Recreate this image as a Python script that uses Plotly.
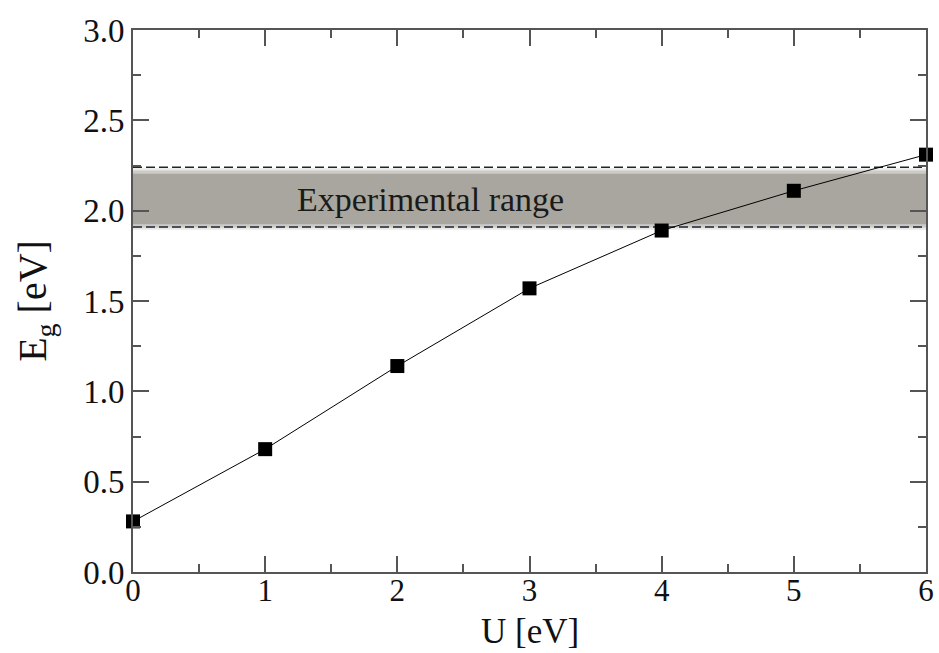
import plotly.graph_objects as go

U = [0, 1, 2, 3, 4, 5, 6]
Eg = [0.28, 0.68, 1.14, 1.57, 1.89, 2.11, 2.31]
exp_low = 1.91
exp_high = 2.24
band_low = 1.915
band_high = 2.215
x_range = [0, 6]
y_range = [0, 3]
x_ticks = [0, 1, 2, 3, 4, 5, 6]
y_ticks = [0.0, 0.5, 1.0, 1.5, 2.0, 2.5, 3.0]

FONT = "Liberation Serif, Times New Roman, serif"
AX = "#555555"
TXT = "#111111"

fig = go.Figure()

# soft-edged gray band
fig.add_shape(type="rect", xref="x", yref="y", x0=0, x1=6, y0=band_low - 0.02, y1=band_high + 0.02,
              fillcolor="rgba(168,166,158,0.25)", line_width=0, layer="below")
fig.add_shape(type="rect", xref="x", yref="y", x0=0, x1=6, y0=band_low - 0.008, y1=band_high + 0.008,
              fillcolor="rgba(168,166,158,0.45)", line_width=0, layer="below")
fig.add_shape(type="rect", xref="x", yref="y", x0=0, x1=6, y0=band_low + 0.01, y1=band_high - 0.01,
              fillcolor="#a8a69e", line_width=0, layer="below")

for yv in (exp_low, exp_high):
    fig.add_trace(go.Scatter(x=[x_range[0], x_range[1]], y=[yv, yv], mode="lines",
                             line=dict(color="#222233", width=1.5, dash="9px,4px"),
                             hoverinfo="skip", showlegend=False))

fig.add_trace(go.Scatter(x=U, y=Eg, mode="lines+markers",
                         line=dict(color="black", width=1),
                         marker=dict(symbol="square", size=14, color="black"),
                         showlegend=False, cliponaxis=False))

fig.add_annotation(x=2.25, y=2.06, xref="x", yref="y", text="Experimental range",
                   showarrow=False,
                   font=dict(family=FONT, size=34, color="#1a1a1a"))

# x-axis title as annotation, placed at the bottom of the page
fig.add_annotation(x=0.5, y=0, xref="paper", yref="paper", text="U [eV]",
                   showarrow=False, yanchor="bottom", yshift=-80, borderpad=0,
                   font=dict(family=FONT, size=35, color=TXT))

common = dict(showline=True, linecolor=AX, linewidth=2, mirror="ticks", ticks="inside",
              ticklen=16, tickwidth=2, tickcolor=AX, showgrid=False, zeroline=False,
              automargin=False)

fig.update_xaxes(range=x_range, tickvals=x_ticks, ticktext=[str(v) for v in x_ticks],
                 ticklabelstandoff=-10,
                 tickfont=dict(family=FONT, size=31, color=TXT),
                 minor=dict(ticks="inside", ticklen=8, tickwidth=2, tickcolor=AX, dtick=0.5),
                 **common)
fig.update_yaxes(range=y_range, tickvals=y_ticks, ticktext=[f"{v:.1f}" for v in y_ticks],
                 tickfont=dict(family=FONT, size=33, color=TXT),
                 title=dict(text="E<sub>g</sub> [eV]", font=dict(family=FONT, size=40, color=TXT), standoff=24),
                 minor=dict(ticks="inside", ticklen=8, tickwidth=2, tickcolor=AX, dtick=0.25),
                 **common)

fig.update_layout(width=939, height=653, paper_bgcolor="white", plot_bgcolor="white",
                  margin=dict(l=133, r=13, t=30, b=81))

fig.write_html("out.html")
